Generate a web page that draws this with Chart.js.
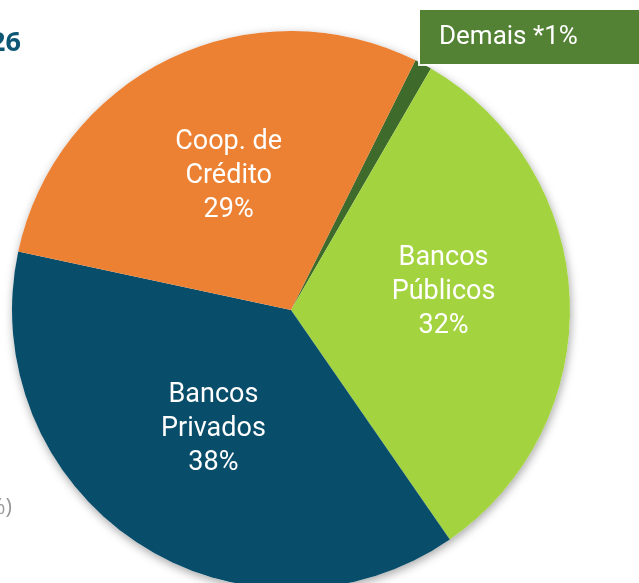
<!DOCTYPE html>
<html><head><meta charset="utf-8">
<script src="https://cdn.jsdelivr.net/npm/chart.js@4/dist/chart.umd.min.js"></script>
<style>
html,body{margin:0;padding:0;background:#fff;overflow:hidden;width:639px;height:583px}
#wrap{position:absolute;left:0;top:0;width:639px;height:620px}
</style></head><body>
<div id="wrap"><canvas id="c" width="639" height="620"></canvas></div>
<script>
const categories = ["Demais", "Bancos Públicos", "Bancos Privados", "Coop. de Crédito"];
const values = [1, 32, 38, 29];
const sliceLabels = [null, ["Bancos", "Públicos", "32%"], ["Bancos", "Privados", "38%"], ["Coop. de", "Crédito", "29%"]];
const colors = ["#3E6A2C", "#A3D33F", "#084D6A", "#EC8033"];
const boxLabel = "Demais *1%";

// small visual nudges for label placement (style, not data)
const labelNudge = [[0, 0], [2, -12], [6, -6], [3, 2]];

const shadowPlugin = {
  id: 'shadow',
  beforeDatasetsDraw(chart) {
    const arc = chart.getDatasetMeta(0).data[0];
    if (!arc) return;
    const ctx = chart.ctx;
    ctx.save();
    ctx.shadowColor = 'rgba(0,0,0,0.35)';
    ctx.shadowBlur = 10;
    ctx.shadowOffsetX = 1;
    ctx.shadowOffsetY = 3;
    ctx.fillStyle = '#fff';
    ctx.beginPath();
    ctx.arc(arc.x, arc.y, arc.outerRadius, 0, Math.PI * 2);
    ctx.fill();
    ctx.restore();
  }
};

const labelPlugin = {
  id: 'labels',
  afterDatasetsDraw(chart) {
    const ctx = chart.ctx;
    const meta = chart.getDatasetMeta(0);
    ctx.save();
    ctx.fillStyle = '#fff';
    ctx.textAlign = 'center';
    ctx.textBaseline = 'middle';
    ctx.font = '27px Roboto, "Noto Sans", sans-serif';
    meta.data.forEach((arc, i) => {
      const lines = sliceLabels[i];
      if (!lines) return;
      const mid = (arc.startAngle + arc.endAngle) / 2;
      const r = arc.outerRadius * 0.54;
      const x = arc.x + Math.cos(mid) * r + labelNudge[i][0];
      const y = arc.y + Math.sin(mid) * r + labelNudge[i][1];
      const lh = 34;
      lines.forEach((t, k) => {
        ctx.fillText(t, x, y + (k - (lines.length - 1) / 2) * lh);
      });
    });
    // Demais box
    ctx.fillStyle = '#548235';
    ctx.shadowColor = 'rgba(255,255,255,0.9)';
    ctx.shadowOffsetX = -2; ctx.shadowOffsetY = 2; ctx.shadowBlur = 0;
    ctx.fillRect(420, 10, 230, 54);
    ctx.shadowColor = 'transparent';
    ctx.fillStyle = '#fff';
    ctx.textAlign = 'left';
    ctx.font = '26px Roboto, "Noto Sans", sans-serif';
    ctx.fillText(boxLabel, 439, 37);
    // cropped side texts
    ctx.fillStyle = '#0D5775';
    ctx.textAlign = 'right';
    ctx.textBaseline = 'alphabetic';
    ctx.font = 'bold 27px "Open Sans", "Noto Sans", sans-serif';
    ctx.fillText("2026", 21, 51);
    ctx.fillStyle = '#999999';
    ctx.font = '22px "Open Sans", "Noto Sans", sans-serif';
    ctx.fillText("(1,6%)", 12, 514);
    ctx.restore();
  }
};

new Chart(document.getElementById('c'), {
  type: 'pie',
  data: {
    labels: categories,
    datasets: [{ data: values, backgroundColor: colors, borderWidth: 0, hoverOffset: 0 }]
  },
  options: {
    responsive: false,
    animation: false,
    rotation: 26.5,
    layout: { padding: { left: 12, right: 69, top: 31, bottom: 31 } },
    plugins: { legend: { display: false }, tooltip: { enabled: false } }
  },
  plugins: [shadowPlugin, labelPlugin]
});
</script>
</body></html>
